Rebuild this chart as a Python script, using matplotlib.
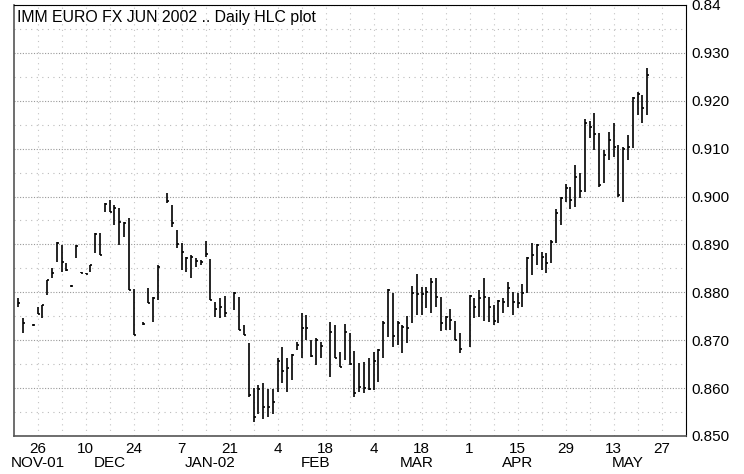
"""Daily HLC bar chart for the IMM Euro FX June 2002 contract."""

import matplotlib

matplotlib.use("Agg")
import matplotlib.pyplot as plt
import matplotlib.transforms as mtransforms
import numpy as np
import pandas as pd
from matplotlib.ticker import FixedFormatter, FixedLocator, MultipleLocator

plt.rcParams["font.family"] = ["Liberation Sans", "DejaVu Sans"]
plt.rcParams["font.size"] = 11

TITLE = "IMM EURO FX JUN 2002 .. Daily HLC plot"

# trading days: weekdays from first to last bar, minus exchange holidays
first_day = "2001-11-20"
last_day = "2002-05-22"
holidays = ["2001-11-22", "2001-12-25", "2002-01-01", "2002-01-21", "2002-02-18", "2002-03-29"]

high = [
    .8788, .8746, .8734,
    .8769, .8773, .8826, .8851, .8905,
    .8899, .8861, .8815, .8899, .8843,
    .8841, .8857, .8924, .8924, .8987,
    .8993, .8982, .8976, .8947, .8955,
    .8807, .8738, .8809, .8790,
    .8857, .9007, .8982, .8930,
    .8903, .8874, .8878, .8872, .8867,
    .8907, .8870, .8780, .8788, .8792,
    .8801, .8790, .8732, .8694,
    .8600, .8606, .8611, .8598, .8598,
    .8663, .8686, .8663, .8671, .8696,
    .8757, .8753, .8700, .8705, .8696,
    .8738, .8732, .8675, .8734,
    .8715, .8677, .8652, .8654, .8663,
    .8675, .8682, .8740, .8807, .8799,
    .8740, .8732, .8751, .8813, .8838,
    .8811, .8811, .8830, .8830, .8790,
    .8751, .8765, .8740, .8715,
    .8794, .8788, .8805, .8830, .8790,
    .8773, .8784, .8788, .8822, .8801,
    .8799, .8817, .8874, .8903, .8901,
    .8884, .8882, .8909, .8974, .8999,
    .9026, .9020, .9066, .9049, .9162,
    .9158, .9174, .9133, .9097, .9135,
    .9154, .9108, .9103, .9129, .9208,
    .9218, .9212, .9268,
]
low = [
    .8769, .8715, .8730,
    .8755, .8746, .8794, .8830, .8863,
    .8842, .8844, .8812, .8872, .8840,
    .8838, .8842, .8882, .8878, .8968,
    .8968, .8941, .8899, .8916, .8805,
    .8711, .8731, .8778, .8738,
    .8784, .8986, .8936, .8893,
    .8847, .8842, .8830, .8853, .8857,
    .8874, .8784, .8749, .8746, .8749,
    .8763, .8721, .8711, .8581,
    .8530, .8545, .8535, .8540, .8545,
    .8592, .8611, .8592, .8617, .8680,
    .8663, .8700, .8665, .8648, .8663,
    .8623, .8663, .8644, .8659,
    .8648, .8581, .8592, .8590, .8596,
    .8596, .8613, .8663, .8707, .8686,
    .8690, .8673, .8694, .8736, .8753,
    .8753, .8767, .8757, .8769, .8719,
    .8721, .8721, .8700, .8673,
    .8686, .8746, .8749, .8740, .8738,
    .8732, .8736, .8757, .8769, .8753,
    .8767, .8769, .8799, .8836, .8857,
    .8847, .8840, .8861, .8903, .8941,
    .8989, .8974, .8978, .8997, .9009,
    .9122, .9097, .9020, .9028, .9076,
    .9083, .8999, .8989, .9076, .9101,
    .9170, .9154, .9170,
]
close = [
    .8778, .8736, .8732,
    .8755, .8773, .8826, .8840, .8903,
    .8863, .8846, .8814, .8897, .8840,
    .8838, .8857, .8922, .8878, .8985,
    .8968, .8976, .8947, .8945, .8805,
    .8711, .8733, .8778, .8788,
    .8853, .8990, .8945, .8900,
    .8884, .8872, .8874, .8866, .8863,
    .8880, .8784, .8765, .8770, .8757,
    .8799, .8721, .8711, .8585,
    .8540, .8598, .8560, .8560, .8570,
    .8657, .8636, .8642, .8669, .8690,
    .8725, .8725, .8667, .8701, .8688,
    .8717, .8663, .8644, .8717,
    .8650, .8590, .8602, .8600, .8598,
    .8657, .8680, .8736, .8805, .8708,
    .8736, .8728, .8726, .8799, .8797,
    .8796, .8801, .8822, .8790, .8736,
    .8749, .8742, .8700, .8682,
    .8792, .8770, .8788, .8790, .8769,
    .8740, .8782, .8780, .8809, .8780,
    .8778, .8799, .8872, .8878, .8899,
    .8874, .8861, .8905, .8966, .8997,
    .9018, .8993, .9041, .9012, .9153,
    .9145, .9130, .9025, .9087, .9118,
    .9103, .9003, .9099, .9103, .9206,
    .9214, .9185, .9254,
]

# x axis: bi-weekly Monday labels, month names on a second row
tick_start = "2001-11-26"
tick_end = "2002-05-27"
month_names = ["NOV-01", "DEC", "JAN-02", "FEB", "MAR", "APR", "MAY"]
month_dates = ["2001-11-26", "2001-12-17", "2002-01-15", "2002-02-14",
               "2002-03-15", "2002-04-15", "2002-05-16"]

y_ticks = [0.85, 0.86, 0.87, 0.88, 0.89, 0.90, 0.91, 0.92, 0.93, 0.94]
y_labels = ["0.850", "0.860", "0.870", "0.880", "0.890", "0.900",
            "0.910", "0.920", "0.930", "0.84"]


def weekday_index(days):
    """Position on a weekday-only axis (holidays keep their slot)."""
    d = np.array(pd.to_datetime(days).values, dtype="datetime64[D]")
    return np.busday_count(np.datetime64(tick_start), d)


def main() -> None:
    dates = pd.bdate_range(first_day, last_day).drop(pd.to_datetime(holidays))
    x = weekday_index(dates)

    fig = plt.figure(figsize=(7.44, 4.74), dpi=100)
    ax = fig.add_axes([14 / 744, 38 / 474, 672 / 744, 431 / 474])

    ax.vlines(x, low, high, color="black", linewidth=1.2)
    ax.hlines(close, x, x + 0.45, color="black", linewidth=1.2)

    ax.set_xlim(-4.9, 135.1)
    ax.set_ylim(0.85, 0.94)

    day_ticks = pd.date_range(tick_start, tick_end, freq="14D")
    ax.xaxis.set_major_locator(FixedLocator(weekday_index(day_ticks)))
    ax.xaxis.set_major_formatter(FixedFormatter([str(d.day) for d in day_ticks]))
    ax.xaxis.set_minor_locator(MultipleLocator(5))

    ax.yaxis.tick_right()
    ax.yaxis.set_major_locator(FixedLocator(y_ticks))
    ax.yaxis.set_major_formatter(FixedFormatter(y_labels))
    ax.yaxis.set_minor_locator(MultipleLocator(0.005))

    ax.tick_params(which="both", length=0)
    ax.tick_params(axis="x", pad=4)
    ax.tick_params(axis="y", pad=4)

    ax.grid(axis="y", which="major", color="#999999", linestyle=(0, (1, 1.5)), linewidth=0.8)
    ax.grid(axis="y", which="minor", color="#bbbbbb", linestyle=(0, (1, 4)), linewidth=0.8)
    ax.grid(axis="x", which="both", color="#c4c4c4", linestyle=(0, (1, 4)), linewidth=0.8)
    ax.set_axisbelow(True)

    for side in ("top", "right"):
        ax.spines[side].set_color("black")
    for side in ("left", "bottom"):
        ax.spines[side].set_color("#555555")
        ax.spines[side].set_linewidth(1.2)

    trans = mtransforms.blended_transform_factory(ax.transData, ax.transAxes)
    for name, xm in zip(month_names, weekday_index(month_dates)):
        ax.text(xm, -0.063, name, transform=trans, ha="center", va="center")

    ax.text(0.005, 0.970, TITLE, transform=ax.transAxes, ha="left", va="center",
            fontsize=11.4)

    fig.savefig("out.png", dpi=100)
    plt.close(fig)


if __name__ == "__main__":
    main()
